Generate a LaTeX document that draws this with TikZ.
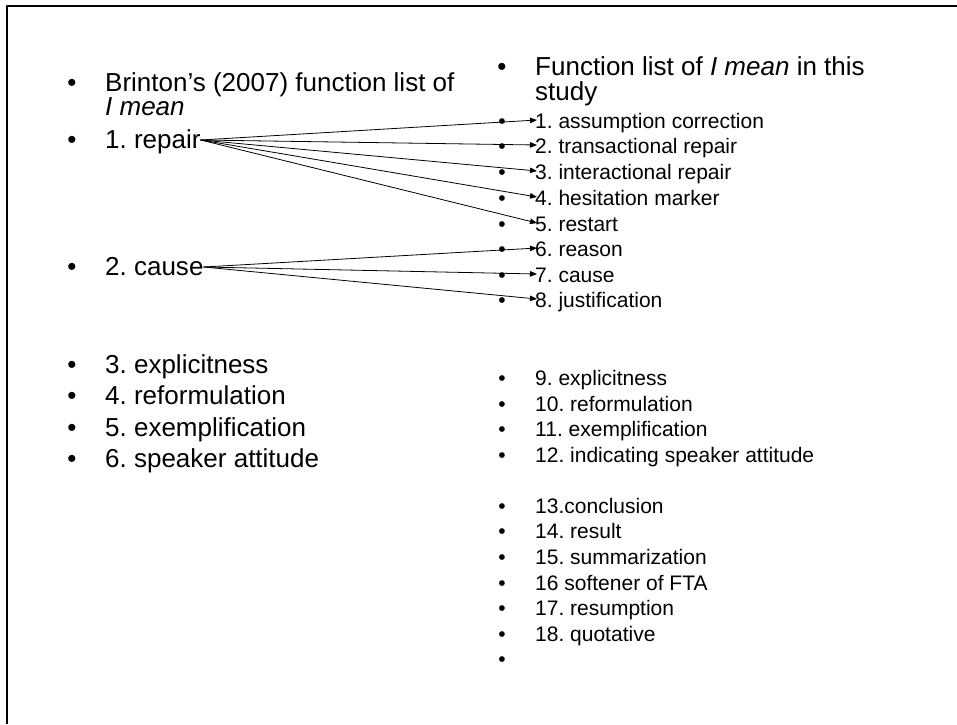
\documentclass[tikz,border=0pt]{standalone}
\usepackage{fontspec}
\setmainfont{Liberation Sans}
\usetikzlibrary{arrows.meta}
\frenchspacing
\begin{document}
\begin{tikzpicture}[x=1pt, y=-1pt, line join=round, line cap=round, >={Triangle[length=7pt,width=5.5pt]},
	big/.style={font=\fontsize{26}{26}\selectfont, anchor=base west, inner sep=0pt},
	small/.style={font=\fontsize{21}{21}\selectfont, anchor=base west, inner sep=0pt},
	bigdot/.style={font=\fontsize{26}{26}\selectfont, anchor=base, inner sep=0pt},
	smalldot/.style={font=\fontsize{21}{21}\selectfont, anchor=base, inner sep=0pt}]
	\useasboundingbox (0,0) rectangle (957,724);
	\draw[line width=2pt, line cap=butt] (7,724)--(7,6)--(957,6);
	\node[bigdot] at (72,91) {•};
	\node[big] (brinton) at (105,91) {Brinton’s (2007) function list of};
	\node[big] (imean) at (105,115) {\textit{I mean}};
	\foreach \n/\t/\y in {repair/1. repair/148, cause/2. cause/275, expl/3. explicitness/373,
		reform/4. reformulation/404, exempl/5. exemplification/436, attit/6. speaker attitude/467}
	{\node[bigdot] at (72,\y) {•};
	\node[big] (\n) at (105,\y) {\t};}
	\node[bigdot] at (502,75) {•};
	\node[big] (study1) at (535,75) {Function list of \textit{I mean} in this};
	\node[big] (study2) at (535,100) {study};
	\foreach \i/\t/\y in {1/1. assumption correction/128, 2/2. transactional repair/153,
		3/3. interactional repair/179, 4/4. hesitation marker/205, 5/5. restart/231,
		6/6. reason/256, 7/7. cause/282, 8/8. justification/307,
		9/9. explicitness/385, 10/10. reformulation/411, 11/11. exemplification/436,
		12/12. indicating speaker attitude/462, 13/13.conclusion/513, 14/14. result/538,
		15/15. summarization/564, 16/16 softener of FTA/590, 17/17. resumption/615,
		18/18. quotative/641}
	{\node[smalldot] at (502,\y) {•};
	\node[small] (r\i) at (535,\y) {\t};}
	\node[smalldot] (rend) at (502,666) {•};
	\foreach \i in {1,...,5}
	\draw[->, line width=0.8pt] ([yshift=8pt]repair.base east) -- ([xshift=2pt, yshift=8pt]r\i.base west);
	\foreach \i in {6,7,8}
	\draw[->, line width=0.8pt] ([yshift=8pt]cause.base east) -- ([xshift=2pt, yshift=8pt]r\i.base west);
\end{tikzpicture}
\end{document}
